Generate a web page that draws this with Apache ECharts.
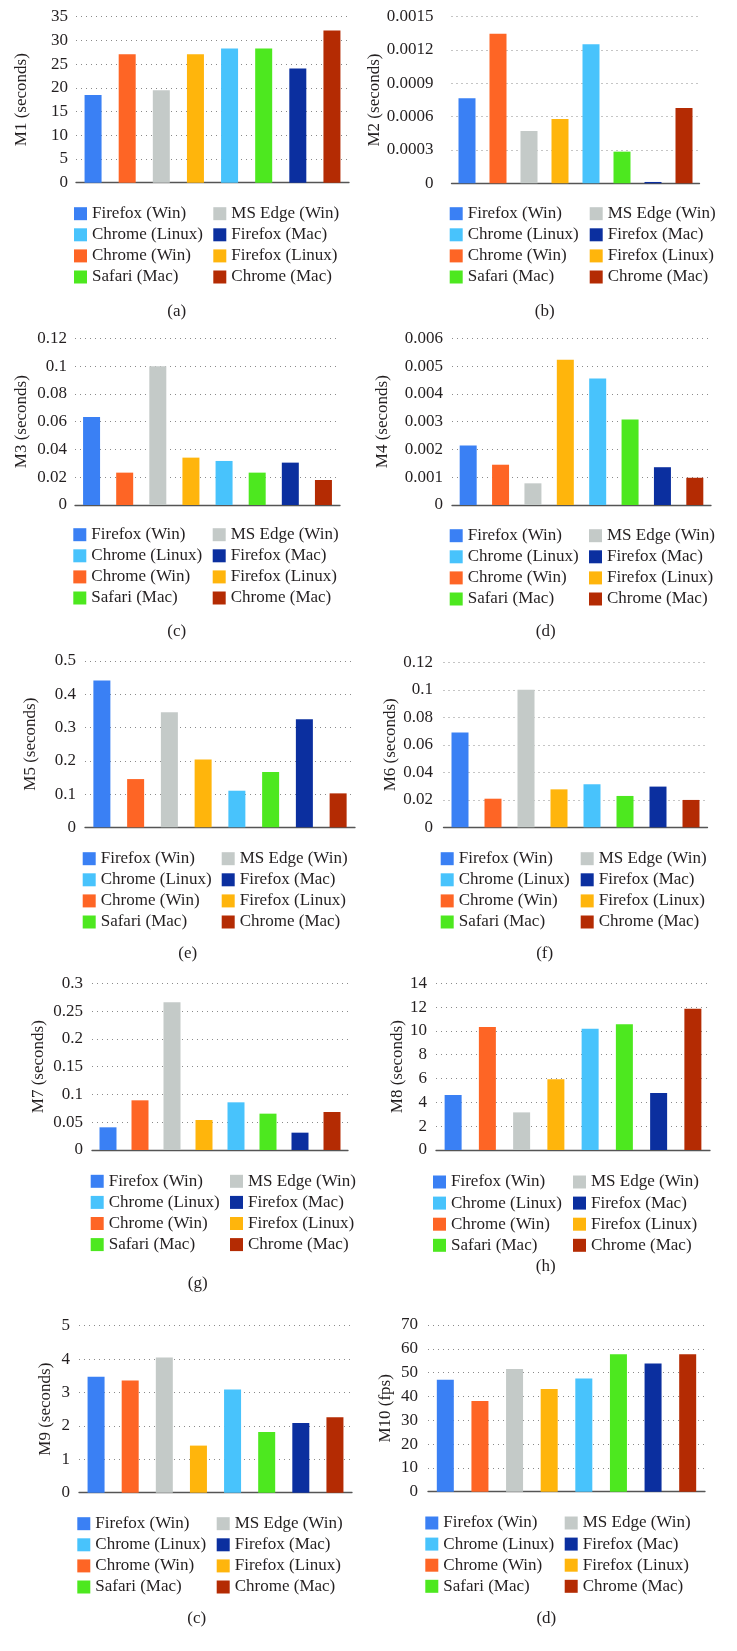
<!DOCTYPE html>
<html>
<head>
<meta charset="utf-8">
<script src="https://cdn.jsdelivr.net/npm/echarts@6/dist/echarts.min.js"></script>
<style>
html,body{margin:0;padding:0;background:#fff;}
#c{width:737px;height:1651px;}
</style>
</head>
<body>
<div id="c"></div>
<script>
// ---- data ----
const browsers = ['Firefox (Win)','Chrome (Win)','MS Edge (Win)','Firefox (Linux)','Chrome (Linux)','Safari (Mac)','Firefox (Mac)','Chrome (Mac)'];
const colors   = ['#3a80f4','#fe6525','#c4cac8','#ffb50c','#48c3fc','#4de81f','#0b2f9f','#b42b03'];
const legendLeftCol  = ['Firefox (Win)','Chrome (Linux)','Chrome (Win)','Safari (Mac)'];
const legendRightCol = ['MS Edge (Win)','Firefox (Mac)','Firefox (Linux)','Chrome (Mac)'];

const m1  = [18.5, 27.1, 19.5, 27.1, 28.3, 28.3, 24.1, 32.1];
const m2  = [0.000765, 0.001347, 0.000471, 0.000579, 0.001251, 0.000285, 0.000012, 0.000678];
const m3  = [0.0634, 0.0233, 0.0998, 0.0341, 0.0317, 0.0233, 0.0305, 0.0180];
const m4  = [0.00214, 0.00145, 0.00078, 0.00523, 0.00455, 0.00308, 0.00136, 0.00098];
const m5  = [0.441, 0.145, 0.346, 0.204, 0.110, 0.166, 0.325, 0.102];
const m6  = [0.0690, 0.0208, 0.1000, 0.0276, 0.0313, 0.0228, 0.0296, 0.0199];
const m7  = [0.0408, 0.0894, 0.2658, 0.0540, 0.0858, 0.0654, 0.0312, 0.0684];
const m8  = [4.62, 10.33, 3.16, 5.94, 10.19, 10.56, 4.79, 11.87];
const m9  = [3.47, 3.36, 4.05, 1.41, 3.09, 1.82, 2.09, 2.26];
const m10 = [47.0, 38.1, 51.5, 43.1, 47.5, 57.7, 53.8, 57.7];

const seriesData = [m1, m2, m3, m4, m5, m6, m7, m8, m9, m10];
const axisNames  = ['M1 (seconds)','M2 (seconds)','M3 (seconds)','M4 (seconds)','M5 (seconds)','M6 (seconds)','M7 (seconds)','M8 (seconds)','M9 (seconds)','M10 (fps)'];
const yMax       = [35, 0.0015, 0.12, 0.006, 0.5, 0.12, 0.3, 14, 5, 70];
const yStep      = [5, 0.0003, 0.02, 0.001, 0.1, 0.02, 0.05, 2, 1, 10];
const captions   = ['(a)','(b)','(c)','(d)','(e)','(f)','(g)','(h)','(c)','(d)'];

// ---- layout (px) ----
// [gridLeft, gridTop, gridWidth, gridBottomY, labelMargin, nameGap, legendLeft1, legendLeft2, legendRow1CenterY, captionX, captionY]
const layout = [
  [76,    16.7, 273, 182.7,  8,   49,   74,    213.3, 210.7,  176.7, 311.7],
  [451.5, 16.7, 248, 183.3, 18,   63.5, 449.7, 589.7, 210.7,  544.7, 311.7],
  [75,    338.3,265, 505,    8,   48,   73.3,  212.7, 531.7,  176.7, 631.7],
  [452,   338.3,259, 505,    9,   63.5, 449.7, 589,   532.7,  545.7, 631.7],
  [85,    661,  270, 827.3,  9,   49,   82.7,  221.7, 855.7,  187.7, 953.3],
  [443.5, 662.3,264, 827.3, 10.5, 46,   440.7, 580.7, 855.7,  544.7, 953.3],
  [92,    983.3,256, 1150,   9,   48,   90.7,  230,   1178.3, 197.7, 1283.3],
  [436,   983.3,274, 1150,   9,   32,   433,   573,   1179,   545.7, 1266.7],
  [79,    1325.7,273,1492.7, 9,   27.7, 77.3,  216.7, 1520.7, 196.7, 1618.3],
  [428,   1325, 277, 1491.7,10,   37,   425.3, 564.7, 1520,   546.3, 1618.3]
];

const FONT = '"Liberation Serif", "DejaVu Serif", serif';
const TXT = '#231f20';

const grid = [], xAxis = [], yAxis = [], series = [], legend = [], graphic = [];

seriesData.forEach((vals, p) => {
  const L = layout[p];
  grid.push({left: L[0], top: L[1], width: L[2], height: L[3] - L[1], containLabel: false});
  xAxis.push({
    type: 'category', gridIndex: p, data: browsers,
    axisLine: {show: true, lineStyle: {color: '#555', width: 1.3}},
    axisTick: {show: false}, axisLabel: {show: false}, splitLine: {show: false}
  });
  yAxis.push({
    type: 'value', gridIndex: p, min: 0, max: yMax[p], interval: yStep[p],
    name: axisNames[p], nameLocation: 'middle', nameGap: L[5] - 3, nameRotate: 90,
    nameTextStyle: {fontFamily: FONT, fontSize: 17, color: TXT},
    axisLine: {show: false}, axisTick: {show: false},
    axisLabel: {margin: L[4], fontFamily: FONT, fontSize: 17, color: TXT},
    splitLine: {show: true, lineStyle: {color: '#8a8a8a', width: 1, type: [1, 4]}}
  });
  browsers.forEach((b, k) => {
    const d = browsers.map((_, j) => (j === k ? vals[k] : '-'));
    series.push({
      type: 'bar', name: b, xAxisIndex: p, yAxisIndex: p,
      data: d, barWidth: 17, barGap: '-100%',
      itemStyle: {color: colors[k]}, silent: true, animation: false
    });
  });
  const legCommon = {
    orient: 'vertical', padding: 0, itemWidth: 13, itemHeight: 13, itemGap: 4.1,
    icon: 'rect', selectedMode: false,
    textStyle: {fontFamily: FONT, fontSize: 17, lineHeight: 17, color: TXT}
  };
  legend.push(Object.assign({}, legCommon, {left: L[6], top: L[8] - 5.5, data: legendLeftCol}));
  legend.push(Object.assign({}, legCommon, {left: L[7], top: L[8] - 5.5, data: legendRightCol}));
  graphic.push({
    type: 'text', x: L[9], y: L[10],
    style: {text: captions[p], font: '17px ' + FONT, fill: TXT, textAlign: 'center', textVerticalAlign: 'middle'}
  });
});

const chart = echarts.init(document.getElementById('c'), null, {renderer: 'canvas'});
chart.setOption({
  backgroundColor: '#fff',
  animation: false,
  grid, xAxis, yAxis, series, legend, graphic
});
</script>
</body>
</html>
